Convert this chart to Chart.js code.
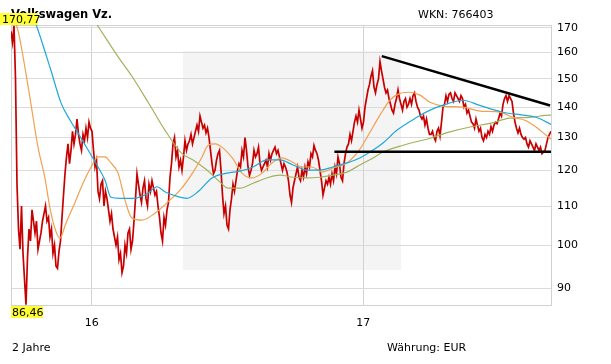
<!DOCTYPE html>
<html>
<head>
<meta charset="utf-8">
<script src="https://cdn.jsdelivr.net/npm/chart.js@4/dist/chart.umd.min.js"></script>
<style>
  html, body { margin: 0; padding: 0; background: #fff; }
  canvas { display: block; }
</style>
</head>
<body>
<canvas id="chart" width="611" height="364"></canvas>
<script>
// Kurs alle ~2 Tage, Werte in EUR
const price = [
  168.5, 164, 170.77, 150, 116, 104, 99, 110, 98, 92,
  86.46, 97, 104, 101, 109, 106, 103, 106, 99, 101,
  103, 106, 108, 110, 106, 107, 102, 104, 98, 100,
  95, 94.5, 98.5, 101, 107, 113, 119, 124, 128, 122,
  126, 132, 128, 131, 136, 131, 128, 126, 131, 129,
  133, 130, 135, 133, 132, 126, 121, 123, 114, 112,
  116, 117, 110, 114, 112, 109, 106, 108, 104, 102,
  100, 102, 96.5, 98, 93.5, 95, 100, 98, 103, 104,
  99, 101, 106, 112, 119, 116, 113, 111, 115, 117,
  112, 110, 116, 114, 117, 115, 113, 114, 110, 107,
  103, 101, 107, 105, 109, 111, 118, 122, 128, 130,
  124, 126, 121, 123, 120, 124, 129, 126, 128, 129,
  131, 128, 130, 132, 134, 132, 137, 135, 133, 134,
  131.5, 133, 130, 126, 122, 119, 120, 123, 125, 126,
  120, 113, 108, 110, 105, 104, 109, 112, 116, 114,
  117, 120, 122, 121, 126, 124, 130, 126, 121, 118.5,
  120, 122, 126, 124, 125, 127, 122, 120, 121, 122,
  123, 121, 125, 123, 125, 126, 127, 125, 126, 124,
  122, 120, 122, 121, 119.5, 117, 113, 111, 115, 117,
  119, 121, 118, 117, 120, 118, 121, 119, 122.5, 121,
  125, 124, 127.5, 126, 125, 123, 120, 117, 113, 115,
  117, 116, 118, 116, 119, 117, 121, 119, 124, 122,
  118, 117, 122, 125, 127, 128, 131, 129, 132, 135,
  137, 135, 139, 136, 133, 135, 140, 143, 146, 148,
  151, 153, 147, 145, 148, 150, 156.5, 153, 150, 147,
  145, 146, 143, 141, 139, 138, 141, 143, 146, 143,
  141, 139, 142, 143, 140, 141, 143, 141, 144, 145,
  142, 140, 139, 137, 136, 137, 134, 136, 133, 131,
  131, 132, 130, 129, 132, 133, 130.5, 135, 140, 141,
  144, 142, 144.5, 145, 143, 142, 145, 144, 143, 142,
  144, 143, 140, 141, 138, 139, 137, 135, 134.5, 133,
  136, 134, 132, 133, 130, 129, 131, 130, 132, 131,
  133.5, 132, 134, 135, 134.5, 136, 138, 137, 141, 143,
  144, 142, 144, 143, 142, 138, 135, 133, 131.5, 133,
  131, 130, 129.5, 130, 128, 127, 129, 128, 127, 126,
  128, 127, 126, 127, 125, 125.5, 126, 128, 130, 131,
  132
];
const priceStep = 0.5;

// gleitende Durchschnitte (Stuetzstellen)
const blueX = [7, 9, 13.3, 16.7, 19.7, 22.3, 25.7, 29, 31.3, 33.3, 36.3, 40.7, 45.3, 48.7, 51.3, 54, 58.7, 62.3, 67, 72, 76.3, 80.7, 85.3, 89.7, 94, 98.7, 103, 107.3, 112, 116.3, 120.7, 124, 128.7, 135.3, 139.7, 144, 150.7, 156, 164, 170.7, 175, 179.3, 180];
const blueY = [176, 169, 153.2, 141.4, 135.6, 131.5, 126.1, 121, 117.2, 112.4, 112.1, 112.1, 113.3, 115.3, 113.9, 113, 112.1, 113.9, 117.8, 119.2, 119.8, 121, 123.1, 123.1, 121.6, 120.1, 120.1, 121, 122.2, 123.7, 126.1, 128.3, 132.4, 136.6, 139, 140.7, 142.4, 140.7, 138.3, 137.3, 136.6, 134.6, 134.2];

const orangeX = [0.5, 2.3, 5.7, 9, 11.3, 13, 14.7, 16.3, 18.3, 21.3, 24, 26.7, 29, 31.3, 33.3, 35.7, 38, 40.3, 43.7, 48, 52.3, 57, 60.7, 63.7, 65.7, 68, 70.7, 74, 77, 80.3, 83.7, 87, 90.3, 93.7, 97, 100.3, 103.7, 107.3, 112, 116.3, 119.7, 123, 126.3, 129.7, 133, 136.3, 139.7, 144, 150.7, 156.3, 163, 167.3, 171.3, 175, 178.3, 180];
const orangeY = [175, 169, 147.3, 127, 117.8, 109.4, 104, 101.7, 105.5, 110.9, 116.3, 121, 124, 124, 122.2, 119.2, 111.6, 106.8, 106.3, 108.1, 111.1, 115, 119.5, 124, 127.6, 128, 126.7, 123.4, 119.2, 117.8, 119.2, 122.2, 123.7, 122.5, 121, 121, 119.5, 120.7, 122.2, 126.4, 131.8, 137.3, 142.4, 144.8, 145.2, 144.2, 141.7, 140.4, 140, 138.7, 138.3, 136.6, 135.6, 133.4, 130.8, 129.5];

const oliveX = [25.5, 28.7, 35.7, 40.3, 45.7, 51.3, 57, 60.7, 65.3, 69.7, 72.3, 76.3, 80.7, 85.3, 89.7, 94, 98.7, 103, 107.3, 112, 116.3, 120.7, 124, 130.7, 139.7, 146.3, 153, 159.7, 166.3, 173, 179.7, 180];
const oliveY = [177, 171.1, 158.3, 151, 141.7, 132.4, 125, 123.1, 120.1, 116.6, 114.9, 114.9, 116.3, 117.8, 118.6, 118, 117.8, 118, 118.6, 119.5, 121.6, 123.7, 125.5, 127.6, 129.8, 131.8, 133.4, 134.6, 136.3, 136.6, 137.3, 137.3];

// Trendlinien
const upperX = [123.6, 179.7];
const upperY = [158.6, 140.6];
const lowerX = [107.8, 180];
const lowerY = [125.6, 125.6];

const yTicks = [90, 100, 110, 120, 130, 140, 150, 160, 170];
const yearTicks = [26.9, 117.4];
const yearLabels = ['16', '17'];

const FONT = 'DejaVu Sans';

function pts(xs, ys) {
  return xs.map((x, i) => ({ x: x, y: ys[i] }));
}

const decor = {
  id: 'decor',
  beforeDraw(chart) {
    const c = chart.ctx;
    c.save();
    c.fillStyle = '#fff';
    c.fillRect(0, 0, chart.width, chart.height);
    c.fillStyle = '#f4f4f4';
    c.fillRect(183, 51, 218, 219);
    c.restore();
  },
  beforeDatasetsDraw(chart) {
    const a = chart.chartArea;
    const c = chart.ctx;
    c.save();
    c.strokeStyle = '#d2d2d2';
    c.lineWidth = 1;
    c.strokeRect(Math.round(a.left) + 0.5, Math.round(a.top) + 0.5, Math.round(a.right - a.left), Math.round(a.bottom - a.top));
    c.restore();
  },
  afterDraw(chart) {
    const c = chart.ctx;
    c.save();
    c.fillStyle = '#000';
    c.textBaseline = 'alphabetic';
    c.font = 'bold 11.5px "' + FONT + '"';
    c.fillText('Volkswagen Vz.', 11, 18);
    c.font = '11px "' + FONT + '"';
    c.fillText('WKN: 766403', 418, 18);
    c.fillText('2 Jahre', 12, 351);
    c.fillText('Währung: EUR', 387, 351);

    // Max / Min Marken
    c.fillStyle = '#ffff33';
    c.fillRect(0, 13, 38, 12);
    c.fillRect(11, 306, 32, 12);
    c.fillStyle = '#000';
    c.fillText('170,77', 2, 23);
    c.fillText('86,46', 12, 316);
    c.restore();
  }
};

new Chart(document.getElementById('chart'), {
  type: 'line',
  data: {
    datasets: [
      { data: pts(upperX, upperY), borderColor: '#000', borderWidth: 2.5, pointRadius: 0, clip: 4 },
      { data: pts(lowerX, lowerY), borderColor: '#000', borderWidth: 2.5, pointRadius: 0, clip: 4 },
      { data: pts(blueX, blueY), borderColor: '#1ea8d8', borderWidth: 1.2, pointRadius: 0, cubicInterpolationMode: 'monotone' },
      { data: pts(orangeX, orangeY), borderColor: '#f0a050', borderWidth: 1.2, pointRadius: 0, cubicInterpolationMode: 'monotone' },
      { data: pts(oliveX, oliveY), borderColor: '#a2b25c', borderWidth: 1.2, pointRadius: 0, cubicInterpolationMode: 'monotone' },
      { data: price.map((v, i) => ({ x: i * priceStep, y: v })), borderColor: '#c80000', borderWidth: 1.7, pointRadius: 0 }
    ]
  },
  options: {
    responsive: false,
    animation: false,
    devicePixelRatio: 1,
    layout: { padding: { left: 11, top: 25, right: 0, bottom: 29 } },
    plugins: { legend: { display: false }, tooltip: { enabled: false } },
    scales: {
      x: {
        type: 'linear',
        min: 0,
        max: 180,
        afterBuildTicks: s => { s.ticks = yearTicks.map(v => ({ value: v })); },
        afterFit: s => { s.height = 30; },
        ticks: {
          callback: (v) => yearLabels[yearTicks.indexOf(v)],
          font: { family: FONT, size: 11 },
          color: '#000',
          padding: 12,
          maxRotation: 0,
          autoSkip: false
        },
        grid: { color: '#d2d2d2', drawTicks: false },
        border: { display: false }
      },
      y: {
        type: 'logarithmic',
        position: 'right',
        min: 86.4,
        max: 171.1,
        afterBuildTicks: s => { s.ticks = yTicks.map(v => ({ value: v })); },
        afterFit: s => { s.width = 60; },
        ticks: {
          callback: (v) => String(v),
          font: { family: FONT, size: 11 },
          color: '#000',
          padding: 6
        },
        grid: { color: '#dadada', drawTicks: false },
        border: { display: false }
      }
    }
  },
  plugins: [decor]
});
</script>
</body>
</html>
